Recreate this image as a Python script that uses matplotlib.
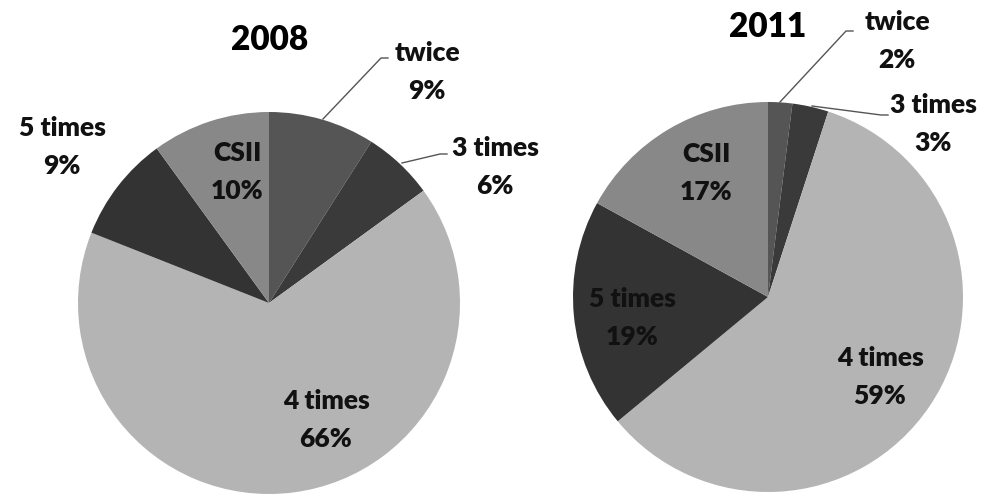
import matplotlib
matplotlib.use('Agg')
import matplotlib.pyplot as plt

plt.rcParams['font.family'] = ['Lato', 'DejaVu Sans']

# data, clockwise from 12 o'clock
categories = ['twice', '3 times', '4 times', '5 times', 'CSII']
share_2008 = [9, 6, 66, 9, 10]
share_2011 = [2, 3, 59, 19, 17]
years = ['2008', '2011']

COLORS = ['#555555', '#3a3a3a', '#b4b4b4', '#333333', '#888888']

W, H = 994, 497
fig = plt.figure(figsize=(W / 100, H / 100), dpi=100)
ax = fig.add_axes([0, 0, 1, 1])


def iy(y):
    # image pixel row -> data y
    return H - y


pies = [
    dict(values=share_2008, year=years[0], center=(269, 303), radius=191,
         title_xy=(270, 40),
         label_xy=[(427, 72), (495, 167), (326, 420), (62, 147), (237, 172)],
         leaders=[[(323, 119), (381, 58), (388, 58)],
                  [(402, 163), (440, 154), (447, 154)]]),
    dict(values=share_2011, year=years[1], center=(768, 297), radius=195,
         title_xy=(768, 27),
         label_xy=[(897, 41), (933, 124), (880, 377), (632, 318), (706, 173)],
         leaders=[[(780, 102), (846, 31), (853, 31)],
                  [(812, 106), (881, 115), (888, 115)]]),
]

for p in pies:
    cx, cy = p['center']
    ax.pie(p['values'], colors=COLORS, startangle=90, counterclock=False,
           center=(cx, iy(cy)), radius=p['radius'], frame=True,
           wedgeprops=dict(linewidth=0))
    ax.text(p['title_xy'][0], iy(p['title_xy'][1]), p['year'], ha='center', va='center',
            fontsize=24, fontweight='heavy', color='black')
    for name, val, (lx, ly) in zip(categories, p['values'], p['label_xy']):
        ax.text(lx, iy(ly), f'{name}\n{val}%', ha='center', va='center',
                fontsize=19, fontweight='heavy', color='#111111', linespacing=1.66)
    for pts in p['leaders']:
        ax.plot([q[0] for q in pts], [iy(q[1]) for q in pts], color='#555555', lw=1.0)

ax.set_xlim(0, W)
ax.set_ylim(0, H)
ax.set_aspect('equal')
ax.axis('off')

fig.savefig('out.png', dpi=100, facecolor='white')
